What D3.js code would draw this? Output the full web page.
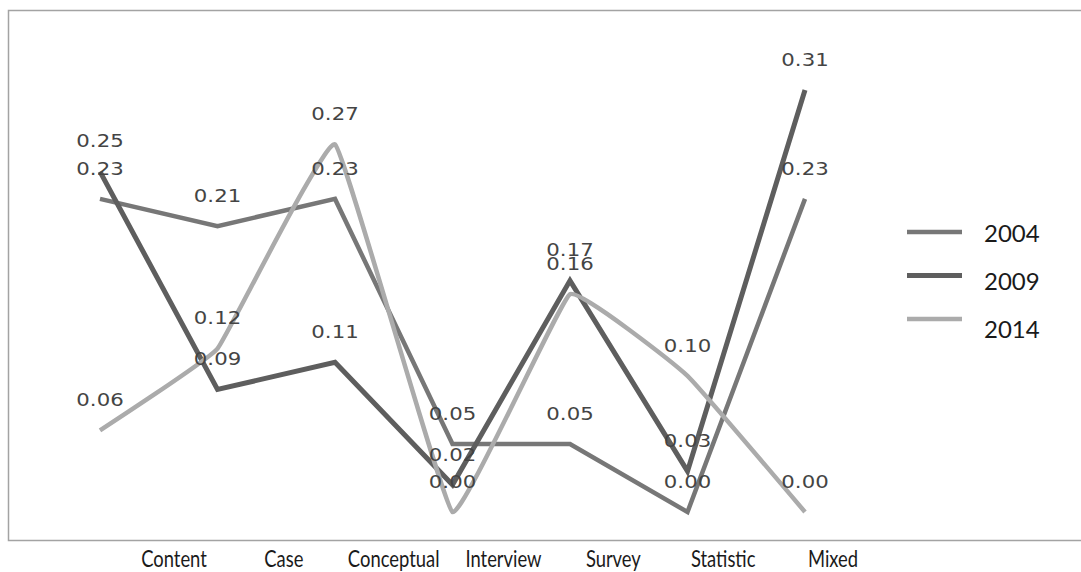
<!DOCTYPE html>
<html>
<head>
<meta charset="utf-8">
<script src="https://cdn.jsdelivr.net/npm/d3@7"></script>
<style>
  html, body { margin: 0; padding: 0; background: #ffffff; }
  svg { display: block; }
</style>
</head>
<body>
<svg id="chart" width="1081" height="572"></svg>
<script>
// Research methods and their share of studies in three survey years
const categories = ["Content", "Case", "Conceptual", "Interview", "Survey", "Statistic", "Mixed"];
const years = ["2004", "2009", "2014"];
const values2004 = [0.23, 0.21, 0.23, 0.05, 0.05, 0.00, 0.23];
const values2009 = [0.25, 0.09, 0.11, 0.02, 0.17, 0.03, 0.31];
const values2014 = [0.06, 0.12, 0.27, 0.00, 0.16, 0.10, 0.00];
const yDomain = [0, 0.31];

const series = [
  { name: years[0], values: values2004, color: "#777777", width: 4.5, curve: d3.curveLinear },
  { name: years[1], values: values2009, color: "#5e5e5e", width: 5, curve: d3.curveLinear },
  { name: years[2], values: values2014, color: "#ababab", width: 4.5, curve: d3.curveCardinal.tension(0.75) }
];

const svg = d3.select("#chart");

// frame around the plot area
svg.append("rect")
  .attr("x", 8.5).attr("y", 10.5)
  .attr("width", 1100).attr("height", 530)
  .attr("fill", "#ffffff")
  .attr("stroke", "#a3a3a3")
  .attr("stroke-width", 1.5);

// point positions for the series and positions for the category captions
const x = d3.scalePoint().domain(categories).range([100, 805]);
const xCaption = d3.scalePoint().domain(categories).range([174, 833]);
const y = d3.scaleLinear().domain(yDomain).range([512, 90]);

const line = d3.line()
  .x((d, i) => x(categories[i]))
  .y(d => y(d));

const plot = svg.append("g");
series.forEach(s => {
  plot.append("path")
    .datum(s.values)
    .attr("fill", "none")
    .attr("stroke", s.color)
    .attr("stroke-width", s.width)
    .attr("stroke-linejoin", "miter")
    .attr("d", line.curve(s.curve));
});

// value labels above each point
const labels = svg.append("g")
  .attr("font-family", "'DejaVu Sans', Verdana, sans-serif")
  .attr("font-size", 17)
  .attr("fill", "#444444");
series.forEach(s => {
  labels.selectAll(null)
    .data(s.values)
    .enter()
    .append("text")
    .attr("transform", (d, i) => `translate(${x(categories[i])},${y(d) - 30}) scale(1.25,1)`)
    .attr("text-anchor", "middle")
    .attr("dominant-baseline", "central")
    .text(d => d.toFixed(2));
});

// category captions under the frame
svg.append("g")
  .attr("font-family", "Lato, 'Open Sans', sans-serif")
  .attr("font-size", 23)
  .attr("fill", "#1a1a1a")
  .selectAll("text")
  .data(categories)
  .enter()
  .append("text")
  .attr("transform", d => `translate(${xCaption(d)},567) scale(0.8,1)`)
  .attr("text-anchor", "middle")
  .text(d => d);

// legend
const legend = svg.append("g");
const legendLine = d3.scalePoint().domain(years).range([232, 319]);
const legendText = d3.scalePoint().domain(years).range([242, 338]);
series.forEach(s => {
  legend.append("line")
    .attr("x1", 907).attr("x2", 962)
    .attr("y1", legendLine(s.name)).attr("y2", legendLine(s.name))
    .attr("stroke", s.color)
    .attr("stroke-width", s.width);
  legend.append("text")
    .attr("x", 984)
    .attr("y", legendText(s.name))
    .attr("font-family", "Lato, 'Open Sans', sans-serif")
    .attr("font-size", 24)
    .attr("fill", "#1a1a1a")
    .text(s.name);
});
</script>
</body>
</html>
